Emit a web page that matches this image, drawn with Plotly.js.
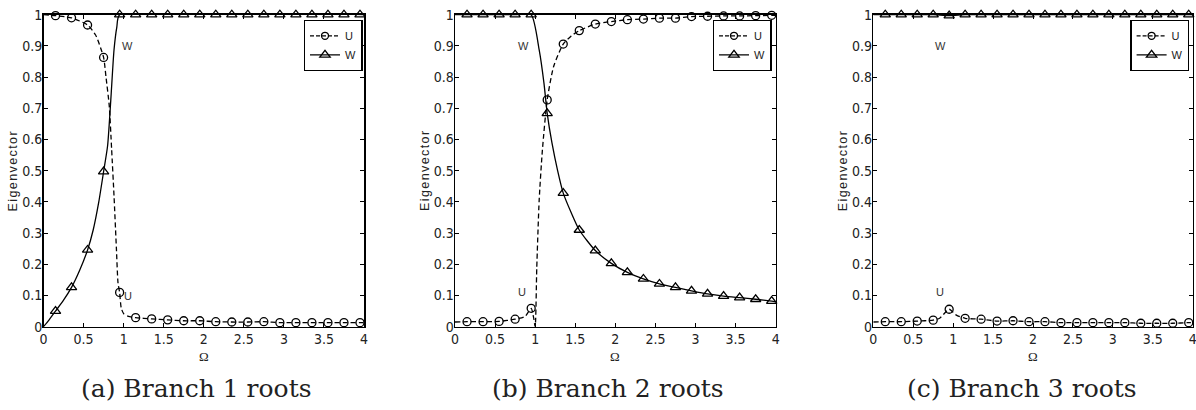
<!DOCTYPE html>
<html><head><meta charset="utf-8">
<script src="https://cdn.plot.ly/plotly-3.0.1.min.js"></script>
<style>
html,body{margin:0;padding:0;background:#fff;}
#chart{width:1196px;height:410px;}
.annotation[data-index="0"] text,.annotation[data-index="1"] text,.annotation[data-index="2"] text{letter-spacing:1.4px;}
</style></head><body><div id="chart"></div>
<script>
// ---- data ----
const omega = [0.15,0.35,0.55,0.75,0.95,1.15,1.35,1.55,1.75,1.95,2.15,2.35,2.55,2.75,2.95,3.15,3.35,3.55,3.75,3.95];
const xTickVals = [0,0.5,1,1.5,2,2.5,3,3.5,4];
const xTickText = ['0','0.5','1','1.5','2','2.5','3','3.5','4'];
const yTickVals = [0,0.1,0.2,0.3,0.4,0.5,0.6,0.7,0.8,0.9,1];
const yTickText = ['0','0.1','0.2','0.3','0.4','0.5','0.6','0.7','0.8','0.9','1'];
const seriesNames = ['U','W'];
const captions = ['(a) Branch 1 roots','(b) Branch 2 roots','(c) Branch 3 roots'];
const yTitle = 'Eigenvector';
const xTitle = 'Ω';

// Panel (a) marker values
const uA = [0.997,0.990,0.967,0.863,0.110,0.029,0.025,0.022,0.019,0.019,0.016,0.015,0.015,0.016,0.013,0.013,0.013,0.013,0.013,0.013];
const wA = [0.050,0.126,0.246,0.497,1,1,1,1,1,1,1,1,1,1,1,1,1,1,1,1];
// Panel (a) curves
const uACurveX = [0,0.15,0.35,0.55,0.65,0.75,0.78,0.82,0.85,0.88,0.91,0.93,0.95,0.97,1.0,1.06,1.15,1.35,1.55,1.75,1.95,2.15,2.35,2.55,2.75,2.95,3.15,3.35,3.55,3.75,3.95,4.0];
const uACurveY = [1.0,0.997,0.990,0.967,0.935,0.863,0.80,0.71,0.57,0.42,0.25,0.14,0.110,0.06,0.042,0.033,0.029,0.025,0.022,0.019,0.019,0.016,0.015,0.015,0.016,0.013,0.013,0.013,0.013,0.013,0.013,0.013];
const wACurveX = [0,0.07,0.15,0.25,0.35,0.45,0.55,0.62,0.69,0.75,0.80,0.84,0.88,0.915,0.95,4.0];
const wACurveY = [0,0.022,0.050,0.085,0.126,0.18,0.246,0.31,0.40,0.497,0.580,0.727,0.887,0.96,1.0,1.0];

// Panel (b) marker values
const uB = [0.016,0.016,0.017,0.024,0.059,0.727,0.906,0.949,0.970,0.978,0.984,0.986,0.989,0.989,0.994,0.995,0.996,0.996,0.997,0.998];
const wB = [1,1,1,1,1,0.684,0.428,0.310,0.244,0.203,0.174,0.153,0.137,0.126,0.115,0.105,0.098,0.093,0.088,0.082];
// Panel (b) curves
const uBCurveX = [0,0.15,0.35,0.55,0.75,0.875,0.95,0.98,1.0,1.02,1.05,1.09,1.15,1.23,1.35,1.45,1.55,1.75,1.95,2.15,2.35,2.55,2.75,2.95,3.15,3.35,3.55,3.75,3.95,4.0];
const uBCurveY = [0.015,0.016,0.016,0.017,0.024,0.033,0.059,0.03,0.0,0.19,0.406,0.566,0.727,0.834,0.906,0.932,0.949,0.970,0.978,0.984,0.986,0.989,0.989,0.994,0.995,0.996,0.996,0.997,0.998,0.998];
const wBCurveX = [0,0.15,0.35,0.55,0.75,0.95,1.05,1.11,1.15,1.21,1.28,1.35,1.45,1.55,1.75,1.95,2.15,2.35,2.55,2.75,2.95,3.15,3.35,3.55,3.75,3.95,4.0];
const wBCurveY = [1,1,1,1,1,1,0.887,0.78,0.684,0.588,0.500,0.428,0.365,0.310,0.244,0.203,0.174,0.153,0.137,0.126,0.115,0.105,0.098,0.093,0.088,0.082,0.080];

// Panel (c) marker values
const uC = [0.016,0.016,0.018,0.021,0.056,0.027,0.024,0.018,0.019,0.016,0.016,0.013,0.013,0.013,0.013,0.013,0.011,0.011,0.011,0.013];
const wC = [1,1,1,1,0.997,1,1,1,1,1,1,1,1,1,1,1,1,1,1,1];
// Panel (c) curves
const uCCurveX = [0,0.15,0.35,0.55,0.75,0.83,0.95,1.04,1.15,1.35,1.55,1.75,1.95,2.15,2.35,2.55,2.75,2.95,3.15,3.35,3.55,3.75,3.95,4.0];
const uCCurveY = [0.015,0.016,0.016,0.018,0.021,0.027,0.056,0.037,0.027,0.024,0.018,0.019,0.016,0.016,0.013,0.013,0.013,0.013,0.013,0.011,0.011,0.011,0.013,0.013];
const wCCurveX = [0,0.15,0.35,0.55,0.75,0.95,1.15,1.35,1.55,1.75,1.95,2.15,2.35,2.55,2.75,2.95,3.15,3.35,3.55,3.75,3.95,4.0];
const wCCurveY = [1,1,1,1,1,0.997,1,1,1,1,1,1,1,1,1,1,1,1,1,1,1,1];

// Label positions (data coords) for in-plot U / W labels
const labelW = [[1.05,0.9],[0.85,0.9],[0.84,0.9]];
const labelU = [[1.05,0.1],[0.83,0.11],[0.835,0.11]];

// ---- build ----
const panels = [
  {u:uA,w:wA,ucx:uACurveX,ucy:uACurveY,wcx:wACurveX,wcy:wACurveY},
  {u:uB,w:wB,ucx:uBCurveX,ucy:uBCurveY,wcx:wBCurveX,wcy:wBCurveY},
  {u:uC,w:wC,ucx:uCCurveX,ucy:uCCurveY,wcx:wCCurveX,wcy:wCCurveY}
];
const W = 1196, H = 410;
const xDomPx = [[43.5,364],[455,775.7],[873.3,1192.7]];
const yDom = [1-326.7/H, 1-14.7/H];
const legendRight = [362.7,771.7,1189.3];
const capX = [196,608,1022];

const tickFont = {family:'"Liberation Sans Narrow","Arial Narrow","DejaVu Sans Condensed","Liberation Sans",Arial,sans-serif', size:14, color:'#222'};
const lineW = 1.3;
const traces = [];
const layout = {
  width:W, height:H, margin:{l:0,r:0,t:0,b:0},
  paper_bgcolor:'#fff', plot_bgcolor:'#fff', showlegend:true,
  annotations:[], font:{family:'"Liberation Sans",Arial,sans-serif', color:'#000'}
};
const sfx = ['','2','3'];
// y title annotations first (indices 0..2) for letter spacing CSS
panels.forEach((p,i)=>{
  layout.annotations.push({xref:'paper',yref:'paper',x:(xDomPx[i][0]-30.5)/W,y:1-170.7/H,xanchor:'center',yanchor:'middle',
    text:yTitle,textangle:-90,showarrow:false,font:{family:'"Liberation Sans",Arial,sans-serif',size:12.5,color:'#222'}});
});
panels.forEach((p,i)=>{
  const xa = 'x'+sfx[i], ya = 'y'+sfx[i];
  const lg = 'legend'+sfx[i];
  const xd = [xDomPx[i][0]/W, xDomPx[i][1]/W];
  const axCommon = {ticks:'inside',ticklen:4,tickwidth:1,tickcolor:'#000',showline:true,linecolor:'#000',linewidth:1.5,
    mirror:'ticks',showgrid:false,zeroline:false,tickfont:tickFont,fixedrange:true,ticklabeloverflow:'allow'};
  layout['xaxis'+sfx[i]] = Object.assign({domain:xd,range:[0,4],tickmode:'array',tickvals:xTickVals,ticktext:xTickText,anchor:ya,ticklabelstandoff:-1},axCommon);
  layout['yaxis'+sfx[i]] = Object.assign({domain:yDom,range:[0,1],tickmode:'array',tickvals:yTickVals,ticktext:yTickText,anchor:xa,ticklabelstandoff:-3},axCommon);
  // curves
  traces.push({x:p.ucx,y:p.ucy,xaxis:xa,yaxis:ya,mode:'lines',line:{color:'#000',width:lineW,dash:'5px,3px',shape:'spline',smoothing:0.6},showlegend:false,hoverinfo:'skip',cliponaxis:false});
  traces.push({x:p.wcx,y:p.wcy,xaxis:xa,yaxis:ya,mode:'lines',line:{color:'#000',width:lineW,shape:'spline',smoothing:0.6},showlegend:false,hoverinfo:'skip',cliponaxis:false});
  // markers
  traces.push({x:omega,y:p.u,xaxis:xa,yaxis:ya,mode:'markers',marker:{symbol:'circle-open',size:8,color:'#000',line:{width:1.3,color:'#000'}},showlegend:false,cliponaxis:false});
  traces.push({x:omega,y:p.w,xaxis:xa,yaxis:ya,mode:'markers',marker:{symbol:'triangle-up-open',size:9,color:'#000',line:{width:1.3,color:'#000'}},showlegend:false,cliponaxis:false});
  // legend entries
  traces.push({x:[null],y:[null],xaxis:xa,yaxis:ya,name:seriesNames[0],legend:lg,mode:'lines+markers',
    line:{color:'#000',width:lineW,dash:'4px,2px'},marker:{symbol:'circle-open',size:7,color:'#000',line:{width:1.3,color:'#000'}}});
  traces.push({x:[null],y:[null],xaxis:xa,yaxis:ya,name:seriesNames[1],legend:lg,mode:'lines+markers',
    line:{color:'#000',width:lineW},marker:{symbol:'triangle-up-open',size:9,color:'#000',line:{width:1.3,color:'#000'}}});
  layout[lg] = {x:legendRight[i]/W,y:1-20/H,xanchor:'right',yanchor:'top',bgcolor:'#fff',bordercolor:'#000',borderwidth:1.3,
    font:{family:'"Liberation Sans",Arial,sans-serif',size:11,color:'#222'},itemwidth:30,tracegroupgap:0,traceorder:'normal'};
  // in-plot labels
  layout.annotations.push({xref:xa,yref:ya,x:labelW[i][0],y:labelW[i][1],text:seriesNames[1],showarrow:false,
    font:{family:'"Liberation Sans",Arial,sans-serif',size:11,color:'#333'}});
  layout.annotations.push({xref:xa,yref:ya,x:labelU[i][0],y:labelU[i][1],text:seriesNames[0],showarrow:false,
    font:{family:'"Liberation Sans",Arial,sans-serif',size:11,color:'#333'}});
  // x title
  layout.annotations.push({xref:'paper',yref:'paper',x:(xd[0]+xd[1])/2,y:1-356.7/H,xanchor:'center',yanchor:'middle',
    text:xTitle,showarrow:false,font:{family:'"Liberation Serif","DejaVu Serif",serif',size:13,color:'#222'}});
  // caption
  layout.annotations.push({xref:'paper',yref:'paper',x:capX[i]/W,y:1-388/H,xanchor:'center',yanchor:'middle',
    text:captions[i],showarrow:false,font:{family:'"DejaVu Serif",serif',size:25,color:'#222'}});
});
Plotly.newPlot('chart',traces,layout,{displayModeBar:false,staticPlot:true});
</script></body></html>
